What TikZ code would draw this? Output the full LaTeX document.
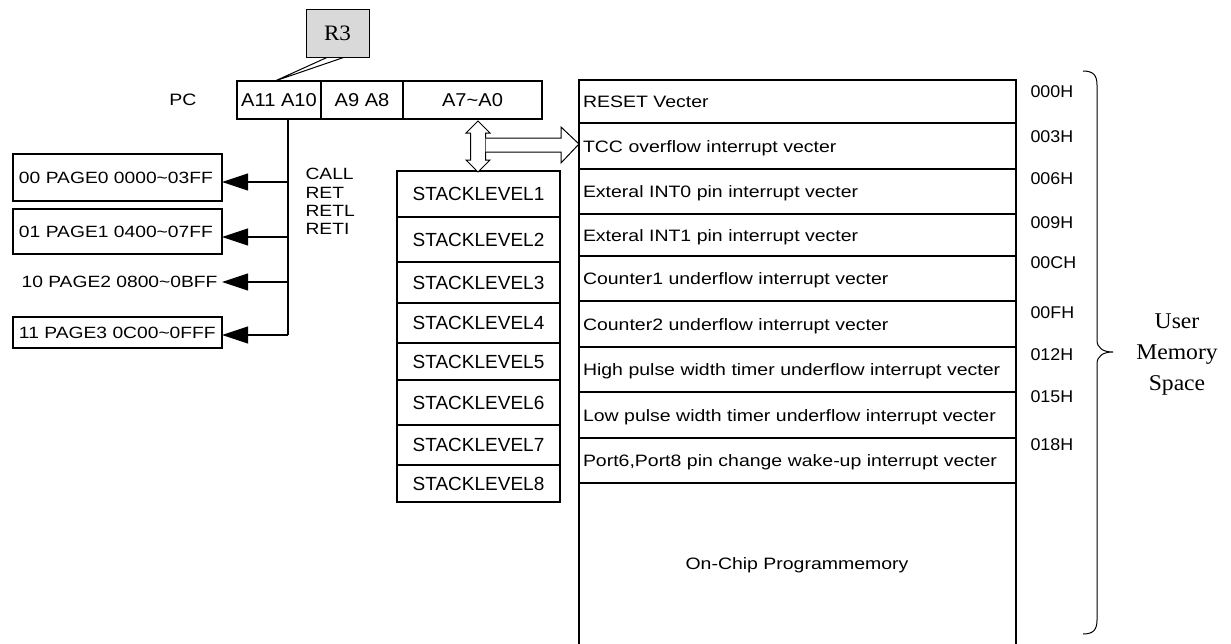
\documentclass[tikz,border=0pt]{standalone}
\usepackage{fontspec}
\usetikzlibrary{arrows.meta}
\newfontfamily\fmem{Liberation Sans}[FakeStretch=1.18]
\newfontfamily\fstk{Liberation Sans}
\newfontfamily\fhex{Liberation Sans}[FakeStretch=1.05]
\newfontfamily\fpc{Liberation Sans}[FakeStretch=1.08]
\newfontfamily\fser{Liberation Serif}[FakeStretch=1.05]
\begin{document}
\begin{tikzpicture}[x=1pt,y=-1pt,line width=1.1pt,
  cell/.style={draw, inner sep=0pt, outer sep=0pt, anchor=north west},
  memcell/.style={cell, text width=429pt, inner xsep=4pt, align=left, text height=12pt, text depth=0pt, font=\fmem\fontsize{16.5}{19}\selectfont},
  stkcell/.style={cell, minimum width=163pt, font=\fstk\fontsize{19}{22}\selectfont, text height=13.5pt, text depth=0pt},
  pgcell/.style={cell, minimum width=209pt, text width=197pt, inner xsep=6pt, align=left, font=\fmem\fontsize{16.3}{19}\selectfont, text height=11.5pt, text depth=0pt},
  pccell/.style={cell, minimum height=38pt, font=\fpc\fontsize{18.6}{21}\selectfont, text height=13.4pt, text depth=0pt},
  lbl/.style={inner sep=0pt, font=\fmem\fontsize{16.3}{19}\selectfont},
  hexlbl/.style={inner sep=0pt, anchor=west, font=\fhex\fontsize{17}{20}\selectfont},
  tip/.style={-{Triangle[length=26pt,width=17pt]}},
  hollow/.style={draw, fill=white, line width=1pt}]
\useasboundingbox (0,0) rectangle (1231,643);
\clip (0,0) rectangle (1231,643);
\fill[white] (0,0) rectangle (1231,643);

% PC register
\node[lbl, font=\fmem\fontsize{16.5}{19}\selectfont] (pc) at (183,100) {PC};
\node[pccell, minimum width=84pt] (a1110) at (237,81) {A11 A10};
\node[pccell, minimum width=82pt] (a98) at (321,81) {A9 A8};
\node[pccell, minimum width=139pt] (a70) at (403,81) {A7\textasciitilde A0};

% R3 callout
\coordinate (ctip) at (275,81);
\coordinate (cl) at (328,57);
\coordinate (cr) at (345,57);
\draw[line width=1pt] (cl) -- (ctip) -- (cr);
\node[cell, fill=gray!30, minimum width=63pt, minimum height=48pt, font=\fser\fontsize{22}{24}\selectfont, line width=1pt] (r3) at (306,9) {R3};

% page boxes
\node[pgcell, minimum height=47pt] (p0) at (13,154) {00 PAGE0 0000\textasciitilde 03FF};
\node[pgcell, minimum height=45pt] (p1) at (13,209) {01 PAGE1 0400\textasciitilde 07FF};
\node[lbl, anchor=east, inner xsep=4pt] (p2) at (222,282) {10 PAGE2 0800\textasciitilde 0BFF};
\node[pgcell, minimum height=31pt] (p3) at (13,317) {11 PAGE3 0C00\textasciitilde 0FFF};

% trunk and branches
\coordinate (trtop) at (288,119);
\coordinate (j0) at (288,182);
\coordinate (j1) at (288,237);
\coordinate (j2) at (288,282);
\coordinate (j3) at (288,335);
\draw (trtop) -- (j3);
\draw[tip] (j0) -- (j0 -| p0.east);
\draw[tip] (j1) -- (j1 -| p1.east);
\draw[tip] (j2) -- (p2.east);
\draw[tip] (j3) -- (j3 -| p3.east);

\node[lbl, anchor=north west, align=left, font=\fmem\fontsize{16.3}{18.3}\selectfont] (calls) at (305,168) {CALL\\RET\\RETL\\RETI};

% stack
\node[stkcell, minimum height=46pt] (s1) at (397,171) {STACKLEVEL1};
\node[stkcell, minimum height=45pt] (s2) at (397,217) {STACKLEVEL2};
\node[stkcell, minimum height=41pt] (s3) at (397,262) {STACKLEVEL3};
\node[stkcell, minimum height=40pt] (s4) at (397,303) {STACKLEVEL4};
\node[stkcell, minimum height=37pt] (s5) at (397,343) {STACKLEVEL5};
\node[stkcell, minimum height=45pt] (s6) at (397,380) {STACKLEVEL6};
\node[stkcell, minimum height=40pt] (s7) at (397,425) {STACKLEVEL7};
\node[stkcell, minimum height=37pt] (s8) at (397,465) {STACKLEVEL8};

% memory
\node[memcell, minimum height=43pt] (m0) at (579,80) {RESET Vecter};
\node[memcell, minimum height=46pt] (m1) at (579,123) {TCC overflow interrupt vecter};
\node[memcell, minimum height=45pt] (m2) at (579,169) {Exteral INT0 pin interrupt vecter};
\node[memcell, minimum height=42pt] (m3) at (579,214) {Exteral INT1 pin interrupt vecter};
\node[memcell, minimum height=45pt] (m4) at (579,256) {Counter1 underflow interrupt vecter};
\node[memcell, minimum height=46pt] (m5) at (579,301) {Counter2 underflow interrupt vecter};
\node[memcell, minimum height=45pt] (m6) at (579,347) {High pulse width timer underflow interrupt vecter};
\node[memcell, minimum height=46pt] (m7) at (579,392) {Low pulse width timer underflow interrupt vecter};
\node[memcell, minimum height=45pt] (m8) at (579,438) {Port6,Port8 pin change wake-up interrupt vecter};
\node[cell, minimum width=437pt, minimum height=180pt] (m9) at (579,483) {};
\node[lbl, font=\fmem\fontsize{16.5}{19}\selectfont] (onchip) at (797,565) {On-Chip Programmemory};

% hollow arrows
\draw[hollow] (478,121) -- (490,133) -- (485.5,133) -- (485.5,160) -- (490,160) -- (478,172)
  -- (466,160) -- (470.5,160) -- (470.5,133) -- (466,133) -- cycle;
\draw[hollow] (485.5,138) -- (561,138) -- (561,127) -- (m1.west |- 0,144) -- (561,163) -- (561,152) -- (485.5,152);

% address labels
\node[hexlbl] (h0) at (1030,92) {000H};
\node[hexlbl] (h1) at (1030,137) {003H};
\node[hexlbl] (h2) at (1030,179) {006H};
\node[hexlbl] (h3) at (1030,223) {009H};
\node[hexlbl] (h4) at (1030,263) {00CH};
\node[hexlbl] (h5) at (1030,313) {00FH};
\node[hexlbl] (h6) at (1030,355) {012H};
\node[hexlbl] (h7) at (1030,397) {015H};
\node[hexlbl] (h8) at (1030,445) {018H};

% brace
\draw[line width=1pt] (1083,71) .. controls (1093,71) and (1097,75) .. (1097,85) -- (1097,340)
  .. controls (1097,348) and (1103,352) .. (1113,352)
  .. controls (1103,352) and (1097,356) .. (1097,364) -- (1097,620)
  .. controls (1097,630) and (1093,634) .. (1083,634);
\node[inner sep=0pt, align=center, font=\fser\fontsize{22.5}{31}\selectfont] (ums) at (1177,355) {User\\Memory\\Space};
\end{tikzpicture}
\end{document}
